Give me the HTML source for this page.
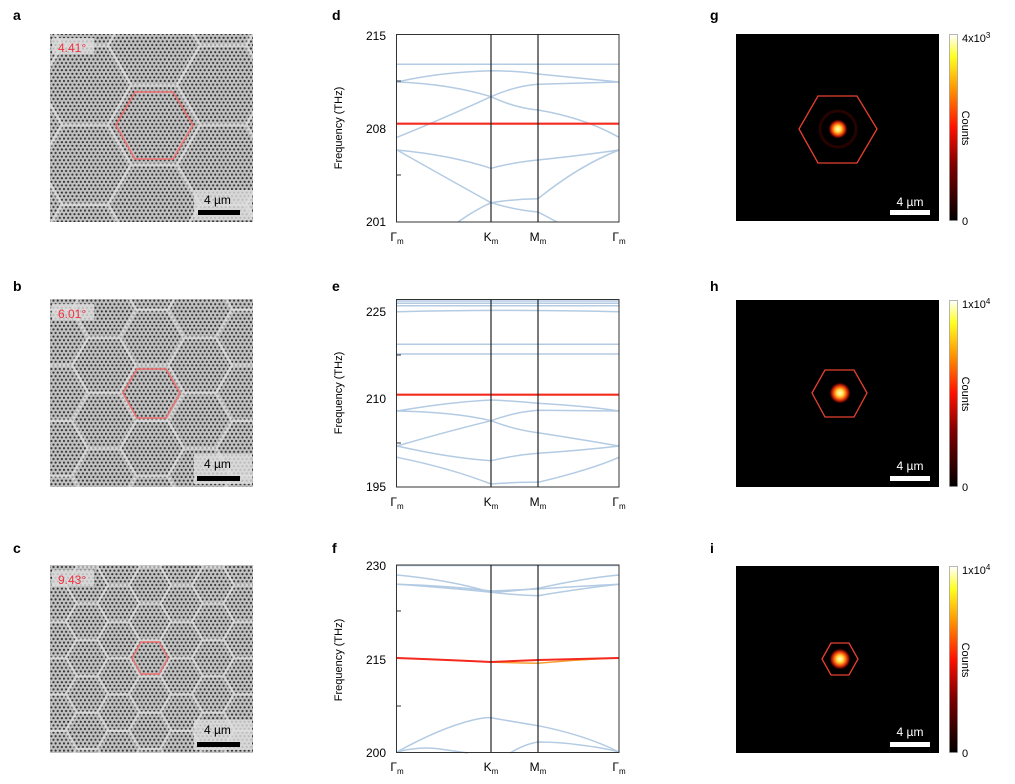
<!DOCTYPE html>
<html><head><meta charset="utf-8"><style>
body{margin:0;background:#fff;width:1015px;height:784px;overflow:hidden;font-family:"Liberation Sans",Arial,sans-serif;}
svg{position:absolute;left:0;top:0}
</style></head><body>
<svg width="1015" height="784" viewBox="0 0 1015 784" font-family="Liberation Sans, Arial, sans-serif">
<defs>
<pattern id="dots" width="4.2" height="7.2" patternUnits="userSpaceOnUse">
<rect width="4.2" height="7.2" fill="#c2c2c2"/>
<circle cx="1" cy="1.8" r="1.1" fill="#333"/><circle cx="3.1" cy="5.4" r="1.1" fill="#333"/>
</pattern>
<pattern id="hexA" width="138" height="79.7" patternUnits="userSpaceOnUse" patternTransform="translate(154,85.15)">
<path d="M0,0 L23,0 L46,39.85 L23,79.7 L0,79.7 M46,39.85 L92,39.85 L115,0 L138,0 M92,39.85 L115,79.7 L138,79.7" fill="none" stroke="#eee" stroke-width="3" opacity="0.55"/>
</pattern>
<pattern id="hexB" width="96" height="55.4" patternUnits="userSpaceOnUse" patternTransform="translate(152,365.3)">
<path d="M0,0 L16,0 L32,27.7 L16,55.4 L0,55.4 M32,27.7 L64,27.7 L80,0 L96,0 M64,27.7 L80,55.4 L96,55.4" fill="none" stroke="#eee" stroke-width="2.8" opacity="0.55"/>
</pattern>
<pattern id="hexC" width="63" height="36.4" patternUnits="userSpaceOnUse" patternTransform="translate(150,639.8)">
<path d="M0,0 L10.5,0 L21,18.2 L10.5,36.4 L0,36.4 M21,18.2 L42,18.2 L52.5,0 L63,0 M42,18.2 L52.5,36.4 L63,36.4" fill="none" stroke="#eee" stroke-width="2.4" opacity="0.55"/>
</pattern>
<radialGradient id="spot">
<stop offset="0" stop-color="#fffbe0"/><stop offset="0.3" stop-color="#ffe040"/><stop offset="0.55" stop-color="#ff6010"/><stop offset="0.8" stop-color="#8a0a00"/><stop offset="1" stop-color="#000" stop-opacity="0"/>
</radialGradient>
<linearGradient id="cbar" x1="0" y1="1" x2="0" y2="0">
<stop offset="0" stop-color="#000"/><stop offset="0.3" stop-color="#800000"/><stop offset="0.5" stop-color="#ff1000"/><stop offset="0.7" stop-color="#ff9000"/><stop offset="0.88" stop-color="#ffff20"/><stop offset="1" stop-color="#fff"/>
</linearGradient>
</defs>

<g font-weight="bold" font-size="14" fill="#000">
<text x="13" y="20">a</text><text x="13" y="291">b</text><text x="13" y="553">c</text>
<text x="332" y="20">d</text><text x="332" y="291">e</text><text x="332" y="553">f</text>
<text x="710" y="20">g</text><text x="710" y="291">h</text><text x="710" y="553">i</text>
</g>

<rect x="50" y="34" width="203" height="188" fill="url(#dots)"/>
<rect x="50" y="34" width="203" height="188" fill="url(#hexA)"/>
<rect x="52" y="38" width="42" height="16" fill="#ddd" opacity="0.8"/>
<text x="58" y="52" font-size="12" fill="#f03040">4.41°</text>
<polygon points="116,125 135,92 173,92 193,125 173,159 135,159" fill="none" stroke="#f07070" stroke-width="1.6"/>
<rect x="194" y="190" width="58" height="30" fill="#ddd" opacity="0.8"/>
<text x="204" y="204" font-size="12" fill="#000">4 µm</text>
<rect x="198" y="210" width="42" height="5" fill="#000"/>

<rect x="50" y="299" width="203" height="188" fill="url(#dots)"/>
<rect x="50" y="299" width="203" height="188" fill="url(#hexB)"/>
<rect x="52" y="304" width="42" height="16" fill="#ddd" opacity="0.8"/>
<text x="58" y="318" font-size="12" fill="#f03040">6.01°</text>
<polygon points="123,393 137,369 166,369 180,393 166,418 137,418" fill="none" stroke="#f07070" stroke-width="1.6"/>
<rect x="194" y="454" width="58" height="30" fill="#ddd" opacity="0.8"/>
<text x="204" y="468" font-size="12" fill="#000">4 µm</text>
<rect x="197" y="476" width="43" height="5" fill="#000"/>

<rect x="50" y="565" width="203" height="188" fill="url(#dots)"/>
<rect x="50" y="565" width="203" height="188" fill="url(#hexC)"/>
<rect x="52" y="570" width="42" height="16" fill="#ddd" opacity="0.8"/>
<text x="58" y="584" font-size="12" fill="#f03040">9.43°</text>
<polygon points="132,658 141,642 159,642 168,658 159,674 141,674" fill="none" stroke="#f07070" stroke-width="1.4"/>
<rect x="194" y="720" width="58" height="30" fill="#ddd" opacity="0.8"/>
<text x="204" y="734" font-size="12" fill="#000">4 µm</text>
<rect x="197" y="742" width="43" height="5" fill="#000"/>

<g fill="none" stroke="#b3cbe3" stroke-width="1.5">
<path d="M397,64.3 H619"/>
<path d="M397,82 Q440,72 491,70.7 Q520,71 538,74 Q580,78 619,82"/>
<path d="M397,82 Q450,84 491,96.7 Q515,108 538,110 Q585,118 619,137.3"/>
<path d="M397,137.3 Q440,120 491,96.7 Q515,86 538,84.3 L619,82"/>
<path d="M397,150 Q450,155 491,168.3 Q515,162 538,160 Q585,155 619,150"/>
<path d="M397,150 Q450,180 491,202.7 Q515,210 538,212 L557,222"/>
<path d="M458,222 Q475,210 491,202.7 Q515,199 538,198.7 Q580,165 619,150"/>
</g>
<path d="M397,123.7 H619" stroke="#f52a1e" stroke-width="2.2"/>
<rect x="396.5" y="34.5" width="222.5" height="187.5" fill="none" stroke="#333" stroke-width="1"/>
<path d="M491,34V222M538,34V222" stroke="#222" stroke-width="1.2"/>
<path d="M397,81H401M397,175H401" stroke="#333"/>
<g font-size="12" fill="#000" text-anchor="end"><text x="386" y="40">215</text><text x="386" y="133">208</text><text x="386" y="226">201</text></g>
<text transform="translate(342,128) rotate(-90)" font-size="11" text-anchor="middle">Frequency (THz)</text>
<g font-size="12" text-anchor="middle"><text x="397" y="241">Γ<tspan font-size="8" dy="3">m</tspan></text><text x="491" y="241">K<tspan font-size="8" dy="3">m</tspan></text><text x="538" y="241">M<tspan font-size="8" dy="3">m</tspan></text><text x="619" y="241">Γ<tspan font-size="8" dy="3">m</tspan></text></g>

<g fill="none" stroke="#b3cbe3" stroke-width="1.5">
<path d="M397,301 H619"/><path d="M397,303.3 H619"/><path d="M397,305.7 H619"/><path d="M397,311.7 Q500,309 619,311.7"/>
<path d="M397,344.3 H619"/><path d="M397,354 H619"/>
<path d="M397,411 Q450,402 491,400 Q515,401 538,403.3 Q585,406 619,411"/>
<path d="M397,411 Q455,412 491,420.7 Q515,430 538,432.7 Q585,440 619,446"/>
<path d="M397,446 Q445,432 491,420.7 Q515,412 538,410.3 L619,411"/>
<path d="M397,446 Q450,458 491,460.7 Q515,455 538,453.3 Q585,450 619,446"/>
<path d="M397,457.3 Q450,468 491,484 Q515,482 538,482.3 Q590,470 619,457.3"/>
</g>
<path d="M397,394.7 H619" stroke="#f52a1e" stroke-width="2.2"/>
<rect x="396.5" y="299.5" width="222.5" height="187.5" fill="none" stroke="#333" stroke-width="1"/>
<path d="M491,299V487M538,299V487" stroke="#222" stroke-width="1.2"/>
<path d="M397,355H401M397,443H401" stroke="#333"/>
<g font-size="12" fill="#000" text-anchor="end"><text x="386" y="316">225</text><text x="386" y="403">210</text><text x="386" y="491">195</text></g>
<text transform="translate(342,393) rotate(-90)" font-size="11" text-anchor="middle">Frequency (THz)</text>
<g font-size="12" text-anchor="middle"><text x="397" y="506">Γ<tspan font-size="8" dy="3">m</tspan></text><text x="491" y="506">K<tspan font-size="8" dy="3">m</tspan></text><text x="538" y="506">M<tspan font-size="8" dy="3">m</tspan></text><text x="619" y="506">Γ<tspan font-size="8" dy="3">m</tspan></text></g>

<g fill="none" stroke="#b3cbe3" stroke-width="1.5">
<path d="M397,565.5 H619"/>
<path d="M397,575 Q450,580 491,592.3 Q515,591 538,588.3 Q585,578 619,575"/>
<path d="M397,584.3 Q450,588 491,592.3 Q515,595 538,595.7 Q585,588 619,584.3"/>
<path d="M397,584.3 Q450,586 491,591 Q515,590 538,589 Q585,586 619,584.3"/>
<path d="M397,752 Q440,728 473,720 Q485,717 491,717.7 Q515,722 538,725.7 Q585,735 619,752"/>
<path d="M397,752 Q420,746 440,749 L468,753"/>
<path d="M510,753 Q525,744 538,742 Q560,742 580,745 Q605,748 619,752"/>
</g>
<path d="M397,658 Q450,660 491,662 Q515,663 538,663.3 Q585,659 619,658" fill="none" stroke="#f5a030" stroke-width="1.5"/>
<path d="M397,658 Q450,660 491,662 Q515,661 538,660 Q585,659 619,658" fill="none" stroke="#f52a1e" stroke-width="2"/>
<rect x="396.5" y="565" width="222.5" height="187.5" fill="none" stroke="#333" stroke-width="1"/>
<path d="M491,565V752M538,565V752" stroke="#222" stroke-width="1.2"/>
<path d="M397,611H401M397,706H401" stroke="#333"/>
<g font-size="12" fill="#000" text-anchor="end"><text x="386" y="570">230</text><text x="386" y="664">215</text><text x="386" y="757">200</text></g>
<text transform="translate(342,660) rotate(-90)" font-size="11" text-anchor="middle">Frequency (THz)</text>
<g font-size="12" text-anchor="middle"><text x="397" y="771">Γ<tspan font-size="8" dy="3">m</tspan></text><text x="491" y="771">K<tspan font-size="8" dy="3">m</tspan></text><text x="538" y="771">M<tspan font-size="8" dy="3">m</tspan></text><text x="619" y="771">Γ<tspan font-size="8" dy="3">m</tspan></text></g>

<rect x="736" y="34" width="203" height="187" fill="#000"/>
<circle cx="838" cy="129" r="18" fill="none" stroke="#240300" stroke-width="3"/>
<circle cx="838" cy="129" r="10" fill="url(#spot)"/>
<polygon points="799,129 818,96 857,96 877,129 857,163 818,163" fill="none" stroke="#e84030" stroke-width="1.3"/>
<text x="910" y="206" font-size="12" fill="#fff" text-anchor="middle">4 µm</text>
<rect x="890" y="210" width="40" height="5" fill="#fff"/>
<rect x="949.5" y="34.5" width="8" height="186" fill="url(#cbar)" stroke="#888" stroke-width="0.6"/>
<text x="962" y="42" font-size="11">4x10<tspan font-size="8" dy="-4">3</tspan></text>
<text x="962" y="225" font-size="11">0</text>
<text transform="translate(962,128) rotate(90)" font-size="11" text-anchor="middle">Counts</text>

<rect x="736" y="300" width="203" height="187" fill="#000"/>
<circle cx="840" cy="393" r="11" fill="url(#spot)"/>
<polygon points="812,393 825,370 854,370 867,393 854,417 825,417" fill="none" stroke="#e84030" stroke-width="1.3"/>
<text x="910" y="470" font-size="12" fill="#fff" text-anchor="middle">4 µm</text>
<rect x="890" y="476" width="40" height="5" fill="#fff"/>
<rect x="949.5" y="300.5" width="8" height="186" fill="url(#cbar)" stroke="#888" stroke-width="0.6"/>
<text x="962" y="308" font-size="11">1x10<tspan font-size="8" dy="-4">4</tspan></text>
<text x="962" y="491" font-size="11">0</text>
<text transform="translate(962,394) rotate(90)" font-size="11" text-anchor="middle">Counts</text>

<rect x="736" y="566" width="203" height="187" fill="#000"/>
<circle cx="840" cy="659" r="11" fill="url(#spot)"/>
<polygon points="822,659 831,643 849,643 858,659 849,675 831,675" fill="none" stroke="#e84030" stroke-width="1.3"/>
<text x="910" y="736" font-size="12" fill="#fff" text-anchor="middle">4 µm</text>
<rect x="890" y="742" width="40" height="5" fill="#fff"/>
<rect x="949.5" y="566.5" width="8" height="186" fill="url(#cbar)" stroke="#888" stroke-width="0.6"/>
<text x="962" y="574" font-size="11">1x10<tspan font-size="8" dy="-4">4</tspan></text>
<text x="962" y="757" font-size="11">0</text>
<text transform="translate(962,660) rotate(90)" font-size="11" text-anchor="middle">Counts</text>
</svg>
</body></html>
